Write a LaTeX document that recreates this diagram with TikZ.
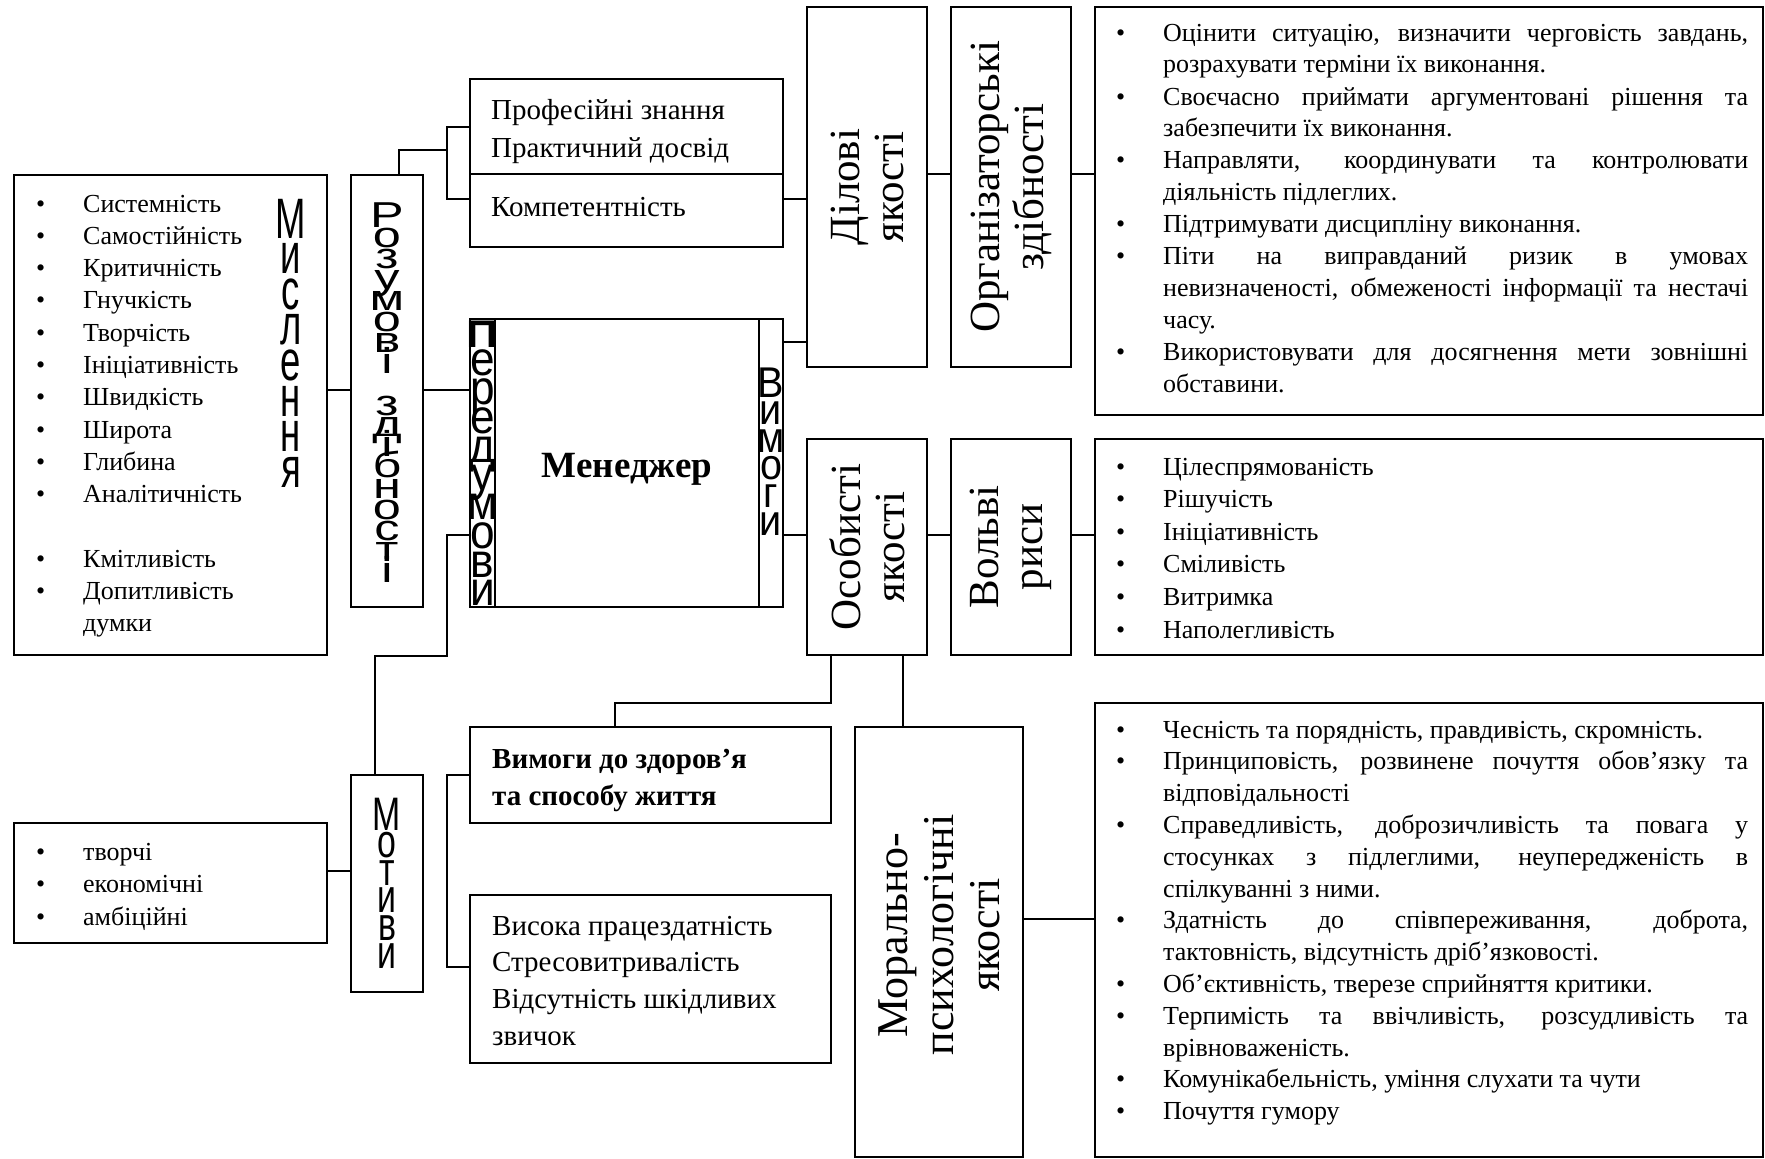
\documentclass[tikz,border=0pt]{standalone}
\usepackage{fontspec}
\usepackage{graphicx}
\setmainfont{Liberation Serif}
\newfontfamily\sfA[FakeStretch=0.64]{Liberation Sans}
\newfontfamily\sfB[FakeStretch=1.4]{Liberation Sans}
\newfontfamily\sfC[FakeStretch=0.92]{Liberation Sans}
\newfontfamily\sfD[FakeStretch=0.72]{Liberation Sans}
\def\vstk#1#2{\vtop{\baselineskip=#1\lineskiplimit=-\maxdimen\lineskip=0pt\halign{\hfil##\hfil\cr#2\crcr}}}
\newcommand\bl{\leavevmode\llap{•\hspace{38pt}}}
\newcommand\jl[1]{\makebox[\linewidth][s]{#1}}
\tikzset{
  box/.style={draw, line width=1.5pt, inner sep=0pt, outer sep=0pt, anchor=north west},
  ln/.style={line width=1.5pt},
  rlab/.style={rotate=90, align=center, inner sep=0pt, font=\fontsize{43}{44}\selectfont},
  txt/.style={anchor=base west, inner sep=0pt},
  stk/.style={anchor=base, inner sep=0pt}
}
\begin{document}
\begin{tikzpicture}[x=1pt,y=-1pt]
\useasboundingbox (0,0) rectangle (1765,1159);
% boxes
\node[box, minimum width=313pt, minimum height=480pt] (mysl) at (14,175) {};
\node[box, minimum width=72pt, minimum height=432pt] (rozum) at (351,175) {};
\node[box, minimum width=313pt, minimum height=168pt] (prof) at (470,79) {};
\node[box, minimum width=313pt, minimum height=288pt] (man) at (470,319) {};
\node[box, minimum width=120pt, minimum height=360pt] (dil) at (807,7) {};
\node[box, minimum width=120pt, minimum height=360pt] (org) at (951,7) {};
\node[box, minimum width=668pt, minimum height=408pt] (l1) at (1095,7) {};
\node[box, minimum width=120pt, minimum height=216pt] (osob) at (807,439) {};
\node[box, minimum width=120pt, minimum height=216pt] (vol) at (951,439) {};
\node[box, minimum width=668pt, minimum height=216pt] (l2) at (1095,439) {};
\node[box, minimum width=361pt, minimum height=96pt] (vz) at (470,727) {};
\node[box, minimum width=361pt, minimum height=168pt] (vys) at (470,895) {};
\node[box, minimum width=168pt, minimum height=430pt] (mor) at (855,727) {};
\node[box, minimum width=668pt, minimum height=454pt] (l3) at (1095,703) {};
\node[box, minimum width=72pt, minimum height=217pt] (mot) at (351,775) {};
\node[box, minimum width=313pt, minimum height=120pt] (ml) at (14,823) {};
% inner lines
\draw[ln] (prof.west |- 0,174) -- (prof.east |- 0,174);
\draw[ln] (495,0 |- man.north) -- (495,0 |- man.south);
\draw[ln] (759,0 |- man.north) -- (759,0 |- man.south);
% connectors
\coordinate (kA) at (447,150);
\coordinate (kB) at (447,656);
\coordinate (kC) at (615,703);
\draw[ln] (mysl.east |- 0,390) -- (rozum.west |- 0,390);
\draw[ln] (rozum.east |- 0,390) -- (man.west |- 0,390);
\draw[ln] (rozum.north -| 399,0) |- (kA);
\draw[ln] (prof.west |- 0,127) -| (447,199) -- (prof.west |- 0,199);
\draw[ln] (prof.east |- 0,199) -- (dil.west |- 0,199);
\draw[ln] (man.east |- 0,342) -- (dil.west |- 0,342);
\draw[ln] (dil.east |- 0,174) -- (org.west |- 0,174);
\draw[ln] (org.east |- 0,174) -- (l1.west |- 0,174);
\draw[ln] (man.east |- 0,535) -- (osob.west |- 0,535);
\draw[ln] (osob.east |- 0,535) -- (vol.west |- 0,535);
\draw[ln] (vol.east |- 0,535) -- (l2.west |- 0,535);
\draw[ln] (osob.south -| 831,0) |- (kC) -- (vz.north -| kC);
\draw[ln] (osob.south -| 903,0) -- (mor.north -| 903,0);
\draw[ln] (mor.east |- 0,919) -- (l3.west |- 0,919);
\draw[ln] (man.west |- 0,535) -| (kB) -| (mot.north -| 375,0);
\draw[ln] (ml.east |- 0,871) -- (mot.west |- 0,871);
\draw[ln] (vz.west |- 0,775) -| (447,967) -- (vys.west |- 0,967);
% stacked vertical letters
\node[stk] (myslv) at (291,238) {\sfA\fontsize{57}{36}\selectfont\vstk{35.6pt}{М\cr и\cr с\cr л\cr е\cr н\cr н\cr я}};
\node[stk] (rozv) at (387,227) {\sfB\fontsize{36}{21}\selectfont\vstk{20.9pt}{Р\cr о\cr з\cr у\cr м\cr о\cr в\cr і\cr \cr з\cr д\cr і\cr б\cr н\cr о\cr с\cr т\cr і}};
\node[stk] (peredv) at (482.5,347) {\sfC\fontsize{48}{28}\selectfont\vstk{28.75pt}{\scalebox{1}[0.8]{\bfseries П}\cr е\cr р\cr е\cr д\cr у\cr м\cr о\cr в\cr и}};
\node[stk] (vymv) at (771,397) {\sfC\fontsize{43}{28}\selectfont\vstk{27.6pt}{В\cr и\cr м\cr о\cr г\cr и}};
\node[stk] (motv) at (387,830) {\sfD\fontsize{47}{28}\selectfont\vstk{27.6pt}{М\cr о\cr т\cr и\cr в\cr и}};
% manager
\node[stk, font=\bfseries\fontsize{37}{40}\selectfont] (mgr) at (627,477) {Менеджер};
% rotated labels
\node[rlab] (dilt) at (dil.center) {Ділові\\якості};
\node[rlab] (orgt) at (org.center) {Організаторські\\здібності};
\node[rlab] (osobt) at (osob.center) {Особисті\\якості};
\node[rlab] (volt) at (vol.center) {Вольві\\риси};
\node[rlab, font=\fontsize{44}{46}\selectfont] (mort) at (939,935) {Морально-\\психологічні\\якості};
% box texts
\node[txt] (proft) at (491,119) {\parbox[t]{290pt}{\fontsize{29}{38}\selectfont Професійні знання\\Практичний досвід}};
\node[txt] (kompt) at (491,216) {\fontsize{29}{38}\selectfont Компетентність};
\node[txt] (vzt) at (492,768) {\parbox[t]{330pt}{\bfseries\fontsize{29}{37}\selectfont Вимоги до здоров’я\\та способу життя}};
\node[txt] (vyst) at (492,935) {\parbox[t]{330pt}{\fontsize{29}{36.7}\selectfont Висока працездатність\\Стресовитривалість\\Відсутність шкідливих\\звичок}};
% lists
\node[txt] (myslt) at (83,212) {\parbox[t]{230pt}{\fontsize{26}{32.3}\selectfont
\bl Системність\\ \bl Самостійність\\ \bl Критичність\\ \bl Гнучкість\\ \bl Творчість\\ \bl Ініціативність\\ \bl Швидкість\\ \bl Широта\\ \bl Глибина\\ \bl Аналітичність\\ \mbox{}\\ \bl Кмітливість\\ \bl Допитливість\\ думки}};
\node[txt] (mlt) at (83,860) {\parbox[t]{230pt}{\fontsize{26}{32.5}\selectfont
\bl творчі\\ \bl економічні\\ \bl амбіційні}};
\node[txt] (l1t) at (1163,41) {\parbox[t]{585pt}{\fontsize{26}{32}\selectfont
\bl\jl{Оцінити ситуацію, визначити черговість завдань,}\par
розрахувати терміни їх виконання.\par
\bl\jl{Своєчасно приймати аргументовані рішення та}\par
забезпечити їх виконання.\par
\bl\jl{Направляти, координувати та контролювати}\par
діяльність підлеглих.\par
\bl Підтримувати дисципліну виконання.\par
\bl\jl{Піти на виправданий ризик в умовах}\par
\jl{невизначеності, обмеженості інформації та нестачі}\par
часу.\par
\bl\jl{Використовувати для досягнення мети зовнішні}\par
обставини.}};
\node[txt] (l2t) at (1163,475) {\parbox[t]{585pt}{\fontsize{26}{32.6}\selectfont
\bl Цілеспрямованість\par \bl Рішучість\par \bl Ініціативність\par \bl Сміливість\par \bl Витримка\par \bl Наполегливість}};
\node[txt] (l3t) at (1163,738) {\parbox[t]{585pt}{\fontsize{26}{31.8}\selectfont
\bl Чесність та порядність, правдивість, скромність.\par
\bl\jl{Принциповість, розвинене почуття обов’язку та}\par
відповідальності\par
\bl\jl{Справедливість, доброзичливість та повага у}\par
\jl{стосунках з підлеглими, неупередженість в}\par
спілкуванні з ними.\par
\bl\jl{Здатність до співпереживання, доброта,}\par
тактовність, відсутність дріб’язковості.\par
\bl Об’єктивність, тверезе сприйняття критики.\par
\bl\jl{Терпимість та ввічливість, розсудливість та}\par
врівноваженість.\par
\bl Комунікабельність, уміння слухати та чути\par
\bl Почуття гумору}};
\end{tikzpicture}
\end{document}
